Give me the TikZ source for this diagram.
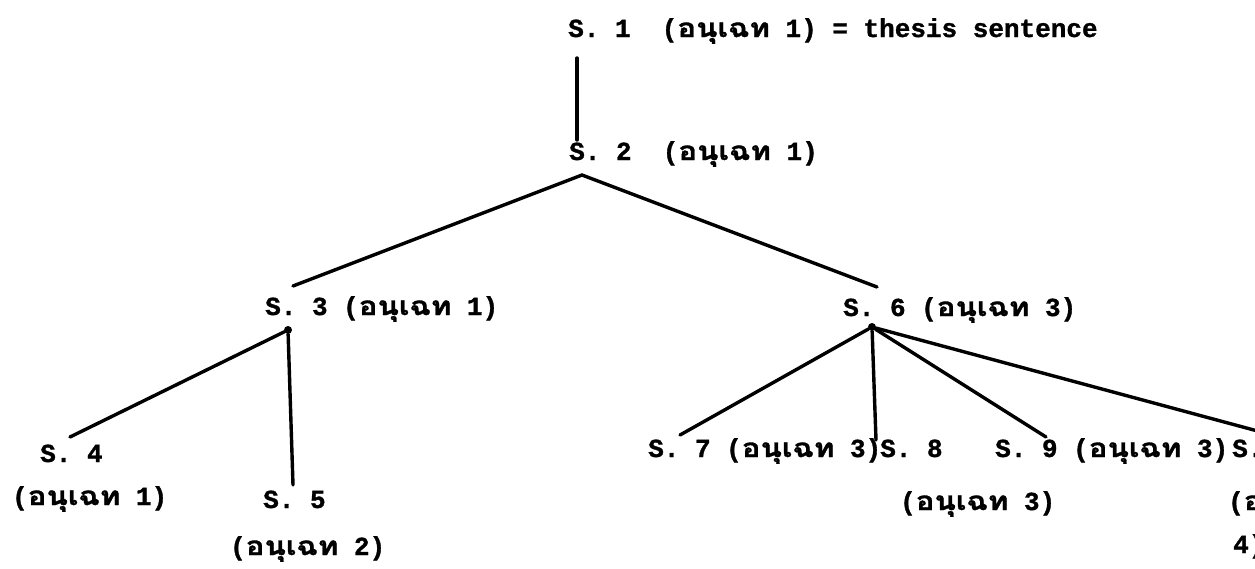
\documentclass[tikz,border=0pt]{standalone}
\usepackage{fontspec}
\setmonofont[BoldFeatures={FakeBold=1.2}]{Liberation Mono}
\newfontfamily\thaifont[Script=Thai,FakeStretch=1.2,BoldFeatures={FakeBold=1.2}]{Loma}
\usetikzlibrary{positioning}
\newcommand{\anu}{{\thaifont อนุเฉท}}
\tikzset{
  typed/.style={font=\ttfamily\bfseries\fontsize{26}{30}\selectfont, inner sep=0pt, anchor=base west},
  branch/.style={line width=3.4pt, line cap=round},
  fork/.style={circle, fill, inner sep=0pt, minimum size=8pt}
}

\begin{document}
\begin{tikzpicture}[x=1pt, y=-1pt]
  \useasboundingbox (0,0) rectangle (1255,568);
  \fill[white] (0,0) rectangle (1255,568);
  \clip (0,0) rectangle (1255,568);

  % sentences, as typed
  \node[typed] (s1) at (568,37) {S.~1~~(\anu~1)~=~thesis~sentence};
  \node[typed] (s2) at (569,160) {S.~2~~(\anu~1)};
  \node[typed] (s3) at (265,315) {S.~3~(\anu~1)};
  \node[typed] (s6) at (843,316) {S.~6~(\anu~3)};
  \node[typed] (s4) at (40,462) {S.~4};
  \node[typed] (s4p) at (12,505) {(\anu~1)};
  \node[typed] (s5) at (263,508) {S.~5};
  \node[typed] (s5p) at (230,555) {(\anu~2)};
  \node[typed] (s7) at (648,457) {S.~7~(\anu~3)};
  \node[typed] (s8) at (880,457) {S.~8};
  \node[typed] (s8p) at (900,510) {(\anu~3)};
  \node[typed] (s9) at (995,457) {S.~9~(\anu~3)};
  \node[typed] (s10) at (1232,457) {S.};
  \node[typed] (s10p) at (1228,510) {(\thaifont อ};
  \node[typed] (s10q) at (1233,553) {4)};

  % forks and line ends
  \coordinate (s1-foot) at (577,58);
  \coordinate (s2-head) at (577,140);
  \coordinate (s2-fork) at (582,175);
  \coordinate (s3-head) at (293,286);
  \coordinate (s6-head) at (877,287);
  \node[fork] (s3-fork) at (288,330) {};
  \node[fork] (s6-fork) at (872,327) {};
  \coordinate (s4-head) at (70,437);
  \coordinate (s5-head) at (293,485);
  \coordinate (s7-head) at (680,435);
  \coordinate (s8-head) at (876,440);
  \coordinate (s9-head) at (1046,437);
  \coordinate (s10-head) at (1265,433);

  \draw[branch] (s1-foot) -- (s2-head);
  \draw[branch] (s3-head) -- (s2-fork) -- (s6-head);
  \draw[branch] (s3-fork) -- (s4-head);
  \draw[branch] (s3-fork) -- (s5-head);
  \draw[branch] (s6-fork) -- (s7-head);
  \draw[branch] (s6-fork) -- (s8-head);
  \draw[branch] (s6-fork) -- (s9-head);
  \draw[branch] (s6-fork) -- (s10-head);
\end{tikzpicture}
\end{document}
